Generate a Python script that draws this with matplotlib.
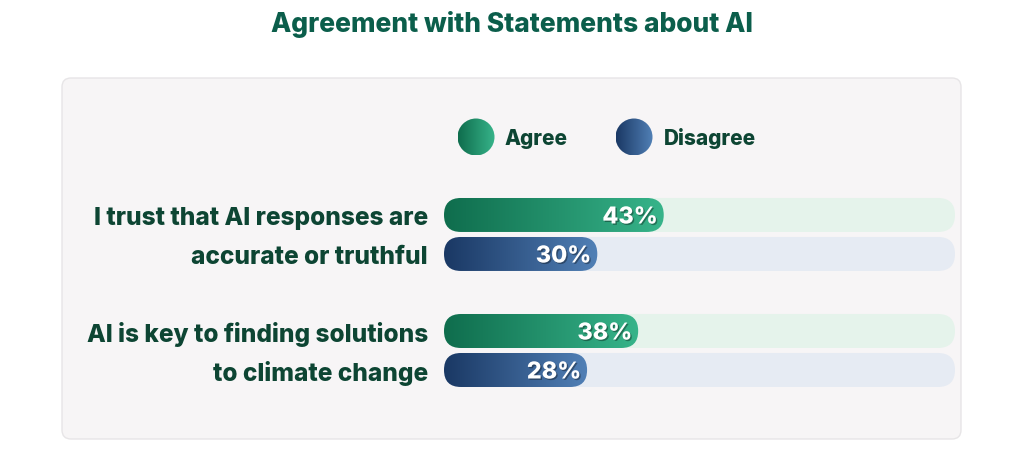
import numpy as np
import matplotlib.pyplot as plt
from matplotlib.patches import FancyBboxPatch, Circle
from matplotlib.colors import LinearSegmentedColormap
import matplotlib.patheffects as pe

plt.rcParams['font.family'] = ['Inter', 'DejaVu Sans']

# data
statements = ["I trust that AI responses are\naccurate or truthful",
              "AI is key to finding solutions\nto climate change"]
agree = [43, 38]
disagree = [30, 28]
series_names = ["Agree", "Disagree"]
title = "Agreement with Statements about AI"

# colours
agree_cmap = LinearSegmentedColormap.from_list("agree", ["#0f6d4d", "#37b48a"])
disagree_cmap = LinearSegmentedColormap.from_list("disagree", ["#1a3864", "#5180b6"])
agree_track = "#e5f3eb"
disagree_track = "#e6ebf3"
label_col = "#0d4533"
title_col = "#0b5e4b"

W, H = 1024, 456
fig = plt.figure(figsize=(W / 100, H / 100), dpi=100)
fig.patch.set_facecolor("white")

# background layer in pixel units
bg = fig.add_axes([0, 0, 1, 1], zorder=0)
bg.set_xlim(0, W)
bg.set_ylim(H, 0)
bg.axis("off")
bg.add_patch(FancyBboxPatch((62, 79), 899, 361, boxstyle="round,pad=0,rounding_size=9",
                            fc="#f7f5f6", ec="#e7e5e7", lw=1, zorder=1))
bg.text(512, 24, title, ha="center", va="center", fontsize=19,
        fontweight="heavy", color=title_col)

grad = np.linspace(0, 1, 256).reshape(1, -1)

# legend
for (cx, tx), name, cmap in zip([(476, 505), (634, 664)], series_names,
                                 [agree_cmap, disagree_cmap]):
    r = 18.5
    circ = Circle((cx, 138), r, fc="none", ec="none")
    bg.add_patch(circ)
    im = bg.imshow(grad, cmap=cmap, extent=(cx - r, cx + r, 138 + r, 138 - r),
                   aspect="auto", interpolation="bicubic", zorder=3)
    im.set_clip_path(circ)
    bg.text(tx, 139, name, ha="left", va="center", fontsize=15,
            fontweight="heavy", color=label_col)
bg.set_xlim(0, W)
bg.set_ylim(H, 0)

# bar axes: x in percent (0-100), y in group units
ax = fig.add_axes([444 / W, (H - 400) / H, 511 / W, 220 / H], zorder=1)
ax.patch.set_alpha(0)
ax.axis("off")
y_top, y_bot = -0.478, 1.418
ax.set_xlim(0, 100)
ax.set_ylim(y_bot, y_top)

px_x = 100 / 511          # x data per pixel
px_y = (y_bot - y_top) / 220  # y data per pixel
aspect = px_y / px_x
bar_h = 34 * px_y
off = 19.5 * px_y
rnd = 17 * px_x

groups = np.arange(len(statements))
for g, label in zip(groups, statements):
    lines = label.split("\n")
    rows = [(g - off, agree[g], agree_cmap, agree_track, lines[0]),
            (g + off, disagree[g], disagree_cmap, disagree_track, lines[1])]
    for y, v, cmap, track, line in rows:
        ax.add_patch(FancyBboxPatch((0, y - bar_h / 2), 100, bar_h,
                                    boxstyle=f"round,pad=0,rounding_size={rnd}",
                                    mutation_aspect=aspect, fc=track, ec="none"))
        bar = FancyBboxPatch((0, y - bar_h / 2), v, bar_h,
                             boxstyle=f"round,pad=0,rounding_size={rnd}",
                             mutation_aspect=aspect, fc="none", ec="none")
        ax.add_patch(bar)
        im = ax.imshow(grad, cmap=cmap, extent=(0, v, y + bar_h / 2, y - bar_h / 2),
                       aspect="auto", interpolation="bicubic", zorder=2)
        im.set_clip_path(bar)
        ax.text(v - 1.2, y, f"{v}%", ha="right", va="center_baseline", fontsize=16.8,
                fontweight="heavy", color="white", zorder=3,
                path_effects=[pe.withSimplePatchShadow(offset=(1, -1),
                                                       shadow_rgbFace="#000000", alpha=0.35)])
        ax.text(-16 * px_x, y, line, ha="right", va="center_baseline", fontsize=17.6,
                fontweight="heavy", color=label_col)

ax.set_xlim(0, 100)
ax.set_ylim(y_bot, y_top)

fig.savefig("out.png", dpi=100, facecolor="white")
